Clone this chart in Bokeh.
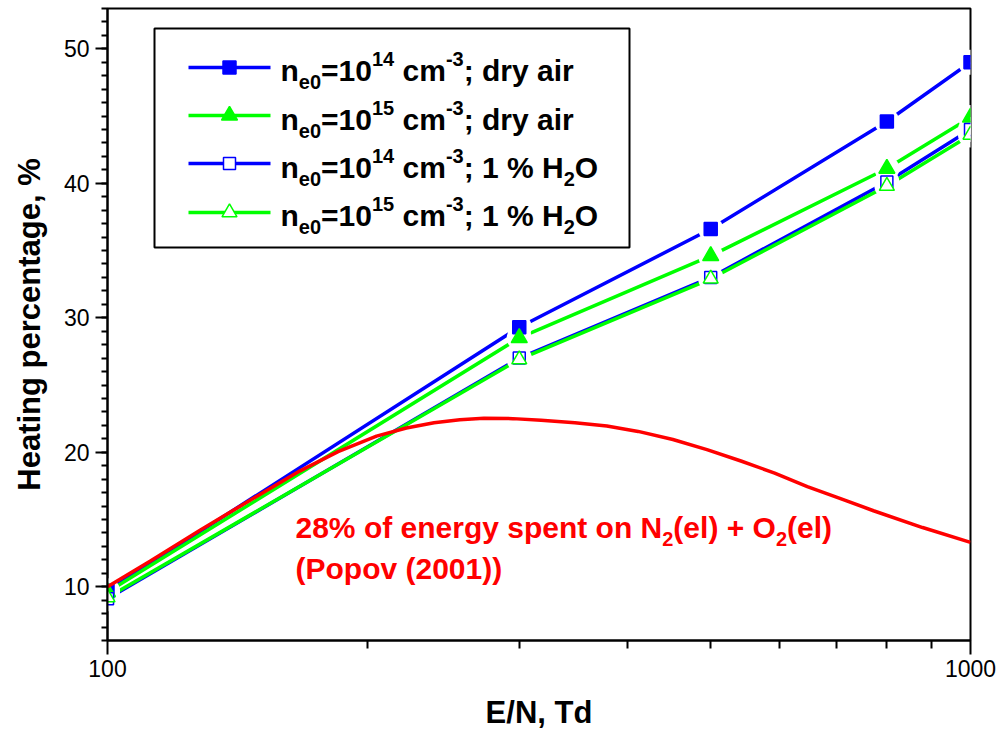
from bokeh.plotting import figure
from bokeh.models import (Range1d, FixedTicker, BasicTickFormatter,
                          SingleIntervalTicker, Label, BoxAnnotation)
from bokeh.embed import file_html
from bokeh.resources import INLINE

# Reduced electric field, Td
en_points = [100, 300, 500, 800, 1000]

# Heating percentage, %
dry_1e14 = [9.7, 29.3, 36.6, 44.6, 49.0]
dry_1e15 = [9.6, 28.5, 34.6, 41.1, 44.9]
h2o_1e14 = [9.1, 27.0, 33.0, 40.1, 44.0]
h2o_1e15 = [9.2, 26.9, 32.9, 39.8, 43.6]

# Popov (2001): 28% of energy spent on N2(el) + O2(el)
popov_en = [100, 112, 128, 146, 167, 185, 205, 222, 239, 256, 273, 295, 318,
            348, 379, 412, 452, 495, 542, 593, 647, 707, 772, 880, 1000]
popov_heat = [10.0, 11.9, 14.2, 16.4, 18.6, 20.05, 21.2, 21.8, 22.2, 22.42,
              22.52, 22.5, 22.38, 22.2, 21.95, 21.55, 20.95, 20.2, 19.35,
              18.45, 17.45, 16.55, 15.65, 14.4, 13.3]

x_ticks = [100, 1000]
x_minor_ticks = [200, 300, 400, 500, 600, 700, 800, 900]

BLUE = "#0000FF"
GREEN = "#00FF00"
RED = "#FF0000"
FONT = "Liberation Sans"

# canvas and frame geometry (pixels)
W, H = 1001, 735
L, R, T, B = 107, 970, 8, 640
X0, X1 = 100, 1000
Y0, Y1 = 6, 53
TEXT_SHIFT = -9   # baseline correction for Label text


def xd(px):
    """pixel column -> data x on the log axis"""
    return X0 * (X1 / X0) ** ((px - L) / (R - L))


def yd(py):
    """pixel row -> data y"""
    return Y0 + (B - py) / (B - T) * (Y1 - Y0)


# Arial Bold advance widths (1/1000 em) for laying out rich text runs
ADV = {' ': 278, '%': 889, '(': 333, ')': 333, '+': 584, ',': 278, '-': 333,
       '/': 278, ';': 333, '=': 584, 'E': 667, 'H': 722, 'N': 722, 'O': 778,
       'P': 667, 'T': 611, 'a': 556, 'c': 556, 'd': 611, 'e': 556, 'f': 333,
       'g': 611, 'i': 278, 'l': 278, 'm': 889, 'n': 611, 'o': 611, 'p': 611,
       'r': 389, 's': 556, 't': 333, 'v': 556, 'y': 556}


def text_width(s, size):
    return sum(ADV.get(c, 556) for c in s) * size / 1000.0


p = figure(width=W, height=H, x_axis_type="log",
           x_range=Range1d(X0, X1), y_range=Range1d(Y0, Y1),
           output_backend="svg", toolbar_location=None,
           min_border_left=L, min_border_right=W - R,
           min_border_top=T, min_border_bottom=H - B)
p.xgrid.visible = False
p.ygrid.visible = False
p.outline_line_color = "black"
p.outline_line_width = 2
p.outline_line_alpha = 1.0
p.background_fill_color = "white"
p.border_fill_color = "white"

# axes
p.xaxis.ticker = FixedTicker(ticks=x_ticks, minor_ticks=x_minor_ticks)
p.xaxis.formatter = BasicTickFormatter(use_scientific=False)
p.yaxis.ticker = SingleIntervalTicker(interval=10, num_minor_ticks=10)
for ax in (p.xaxis[0], p.yaxis[0]):
    ax.axis_line_width = 2
    ax.axis_line_color = "black"
    ax.major_tick_line_width = 2
    ax.minor_tick_line_width = 2
    ax.major_tick_line_color = "black"
    ax.minor_tick_line_color = "black"
    ax.major_tick_in = 0
    ax.minor_tick_in = 0
    ax.major_label_text_font = FONT
    ax.major_label_text_font_size = "23px"
    ax.major_label_text_color = "black"
    ax.axis_label_text_font = FONT
    ax.axis_label_text_font_size = "31px"
    ax.axis_label_text_font_style = "bold"
    ax.axis_label_text_color = "black"

p.xaxis.major_tick_out = 14
p.xaxis.minor_tick_out = 8
p.xaxis.major_label_standoff = 5
p.xaxis.axis_label = "E/N, Td"
p.xaxis.axis_label_standoff = 15

p.yaxis.major_tick_out = 12
p.yaxis.minor_tick_out = 6
p.yaxis.major_label_standoff = 6
p.yaxis.axis_label = "Heating percentage, %"
p.yaxis.axis_label_standoff = 14

series = [
    (dry_1e14, BLUE, "square", True, 13),
    (dry_1e15, GREEN, "triangle", True, 16),
    (h2o_1e14, BLUE, "square", False, 12),
    (h2o_1e15, GREEN, "triangle", False, 15),
]

# curves
for vals, col, mk, filled, sz in series:
    p.line(en_points, vals, line_color=col, line_width=3.5)

# white gaps around the symbols
for vals, col, mk, filled, sz in series:
    p.scatter(en_points, vals, marker="circle", size=25,
              fill_color="white", line_color=None)

# symbols
for vals, col, mk, filled, sz in series:
    p.scatter(en_points, vals, marker=mk, size=sz,
              fill_color=col if filled else "white",
              line_color=col, line_width=1.5)

p.line(popov_en, popov_heat, line_color=RED, line_width=3.5)


def rich_text(x_px, base_px, runs, color, size, small):
    """lay out runs of (text, kind) with kind in base/sub/sup"""
    cur = x_px
    for txt, kind in runs:
        if kind == "base":
            fs, dy = size, 0
        elif kind == "sub":
            fs, dy = small, 11
        else:
            fs, dy = small, -12
        lead = len(txt) - len(txt.lstrip(" "))
        cur += text_width(" " * lead, fs)
        body = txt.strip(" ")
        p.add_layout(Label(x=xd(cur), y=yd(base_px + dy + TEXT_SHIFT),
                           text=body, text_font=FONT, text_font_style="bold",
                           text_font_size=f"{fs}px", text_color=color,
                           text_baseline="alphabetic", text_align="left"))
        cur += text_width(txt.lstrip(" "), fs)


# legend
p.add_layout(BoxAnnotation(left=xd(154), right=xd(629), top=yd(28),
                           bottom=yd(247), fill_color="white", fill_alpha=1.0,
                           line_color="black", line_alpha=1.0, line_width=2,
                           level="underlay"))

legend_rows = [
    ("14", "; dry air", None),
    ("15", "; dry air", None),
    ("14", "; 1 % H", "O"),
    ("15", "; 1 % H", "O"),
]
row_mid = [67, 115, 163, 212]
row_base = [79, 128, 176, 224]

for (vals, col, mk, filled, sz), (exp, tail, tail2), ym, yb in zip(
        series, legend_rows, row_mid, row_base):
    p.segment(x0=[xd(188)], y0=[yd(ym)], x1=[xd(270)], y1=[yd(ym)],
              line_color=col, line_width=3.5)
    p.scatter([xd(229)], [yd(ym)], marker=mk, size=sz,
              fill_color=col if filled else "white",
              line_color=col, line_width=1.5)
    runs = [("n", "base"), ("e0", "sub"), ("=10", "base"), (exp, "sup"),
            (" cm", "base"), ("-3", "sup"), (tail, "base")]
    if tail2:
        runs += [("2", "sub"), (tail2, "base")]
    rich_text(280, yb, runs, "black", 30, 20)

# annotation of the red curve
rich_text(295, 536, [("28% of energy spent on N", "base"), ("2", "sub"),
                     ("(el) + O", "base"), ("2", "sub"), ("(el)", "base")],
          RED, 30, 20)
rich_text(295, 577, [("(Popov (2001))", "base")], RED, 30, 20)

open("out.html", "w").write(file_html(p, INLINE))
